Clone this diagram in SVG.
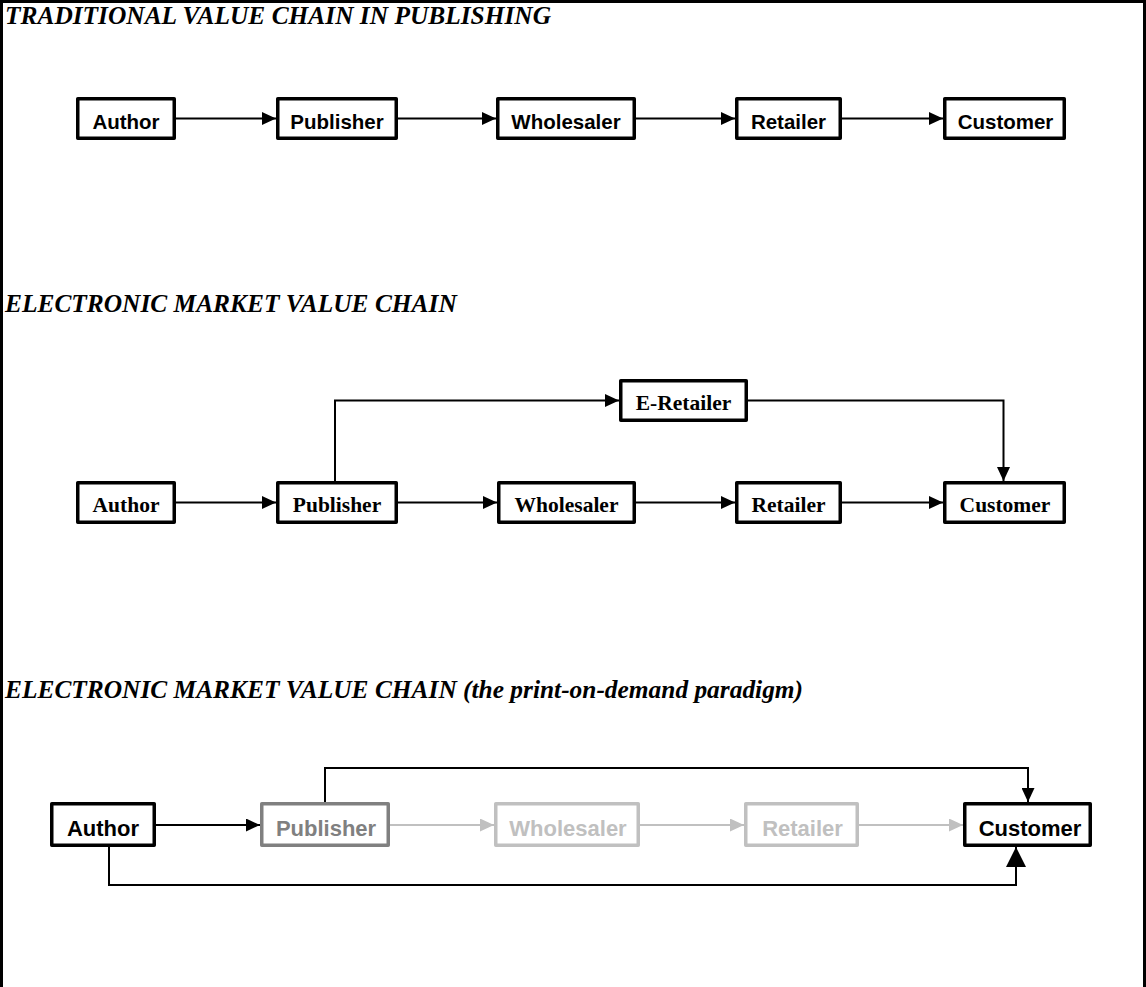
<svg xmlns="http://www.w3.org/2000/svg" width="1146" height="987" viewBox="0 0 1146 987">
<style>
.box{fill:#fff;stroke:#000;stroke-width:3.5;stroke-linejoin:round}
.g1{stroke:#808080}
.g2{stroke:#c0c0c0}
.sans{font-family:"Liberation Sans",Arial,sans-serif;font-weight:bold;font-size:20.5px;text-anchor:middle;fill:#000}
.sans3{font-family:"Liberation Sans",Arial,sans-serif;font-weight:bold;font-size:22px;text-anchor:middle;fill:#000}
.serif{font-family:"Liberation Serif","Times New Roman",serif;font-weight:bold;font-size:21.5px;text-anchor:middle;fill:#000}
.title{font-family:"Liberation Serif","Times New Roman",serif;font-weight:bold;font-style:italic;font-size:25.4px;fill:#000}
.t1{fill:#808080}
.t2{fill:#c0c0c0}
.ln{fill:none;stroke:#000;stroke-width:2}
.lg{fill:none;stroke:#c0c0c0;stroke-width:2}
</style>
<defs>
<marker id="ah" markerUnits="userSpaceOnUse" markerWidth="14" markerHeight="13" refX="14" refY="6.5" orient="auto"><path d="M0,0 L14,6.5 L0,13 z" fill="#000"/></marker>
<marker id="ahg" markerUnits="userSpaceOnUse" markerWidth="14" markerHeight="13" refX="14" refY="6.5" orient="auto"><path d="M0,0 L14,6.5 L0,13 z" fill="#c0c0c0"/></marker>
<marker id="ahb" markerUnits="userSpaceOnUse" markerWidth="20" markerHeight="20" refX="20" refY="10" orient="auto"><path d="M0,0 L20,10 L0,20 z" fill="#000"/></marker>
</defs>
<rect x="0" y="0" width="1146" height="987" fill="#fff"/>
<path d="M1.5,987 V1.5 H1144.5 V987" fill="none" stroke="#000" stroke-width="3"/>

<text class="title" x="5" y="24">TRADITIONAL VALUE CHAIN IN PUBLISHING</text>
<text class="title" x="5" y="312">ELECTRONIC MARKET VALUE CHAIN</text>
<text class="title" x="5" y="698">ELECTRONIC MARKET VALUE CHAIN (the print-on-demand paradigm)</text>

<g id="connectors">
<line class="ln" x1="176" y1="118.5" x2="276" y2="118.5" marker-end="url(#ah)"/>
<line class="ln" x1="398" y1="118.5" x2="496" y2="118.5" marker-end="url(#ah)"/>
<line class="ln" x1="636" y1="118.5" x2="735" y2="118.5" marker-end="url(#ah)"/>
<line class="ln" x1="842" y1="118.5" x2="943" y2="118.5" marker-end="url(#ah)"/>

<line class="ln" x1="176" y1="502.5" x2="276" y2="502.5" marker-end="url(#ah)"/>
<line class="ln" x1="398" y1="502.5" x2="497" y2="502.5" marker-end="url(#ah)"/>
<line class="ln" x1="636" y1="502.5" x2="735" y2="502.5" marker-end="url(#ah)"/>
<line class="ln" x1="842" y1="502.5" x2="943" y2="502.5" marker-end="url(#ah)"/>
<path class="ln" d="M335,481 V400.5 H619" marker-end="url(#ah)"/>
<path class="ln" d="M748,400.5 H1003.5 V481" marker-end="url(#ah)"/>

<line class="ln" x1="156" y1="825" x2="260" y2="825" marker-end="url(#ah)"/>
<line class="lg" x1="390" y1="825" x2="494" y2="825" marker-end="url(#ahg)"/>
<line class="lg" x1="640" y1="825" x2="744" y2="825" marker-end="url(#ahg)"/>
<line class="lg" x1="859" y1="825" x2="963" y2="825" marker-end="url(#ahg)"/>
<path class="ln" d="M325,802 V768 H1028 V802" marker-end="url(#ah)"/>
<path class="ln" d="M109,847 V885 H1016 V847" marker-end="url(#ahb)"/>
</g>

<g id="r1-author"><rect class="box" x="77.75" y="98.75" width="96.5" height="39.5"/><text class="sans" x="126" y="128.5">Author</text></g>
<g id="r1-publisher"><rect class="box" x="277.75" y="98.75" width="118.5" height="39.5"/><text class="sans" x="337" y="128.5">Publisher</text></g>
<g id="r1-wholesaler"><rect class="box" x="497.75" y="98.75" width="136.5" height="39.5"/><text class="sans" x="566" y="128.5">Wholesaler</text></g>
<g id="r1-retailer"><rect class="box" x="736.75" y="98.75" width="103.5" height="39.5"/><text class="sans" x="788.5" y="128.5">Retailer</text></g>
<g id="r1-customer"><rect class="box" x="944.75" y="98.75" width="119.5" height="39.5"/><text class="sans" x="1005.5" y="128.5">Customer</text></g>

<g id="r2-eretailer"><rect class="box" x="620.75" y="380.75" width="125.5" height="39.5"/><text class="serif" x="683.5" y="409.5">E-Retailer</text></g>
<g id="r2-author"><rect class="box" x="77.75" y="482.75" width="96.5" height="39.5"/><text class="serif" x="126" y="511.5">Author</text></g>
<g id="r2-publisher"><rect class="box" x="277.75" y="482.75" width="118.5" height="39.5"/><text class="serif" x="337" y="511.5">Publisher</text></g>
<g id="r2-wholesaler"><rect class="box" x="498.75" y="482.75" width="135.5" height="39.5"/><text class="serif" x="566.5" y="511.5">Wholesaler</text></g>
<g id="r2-retailer"><rect class="box" x="736.75" y="482.75" width="103.5" height="39.5"/><text class="serif" x="788.5" y="511.5">Retailer</text></g>
<g id="r2-customer"><rect class="box" x="944.75" y="482.75" width="119.5" height="39.5"/><text class="serif" x="1005" y="511.5">Customer</text></g>

<g id="r3-author"><rect class="box" x="51.75" y="803.75" width="102.5" height="41.5"/><text class="sans3" x="103" y="836">Author</text></g>
<g id="r3-publisher"><rect class="box g1" x="261.75" y="803.75" width="126.5" height="41.5"/><text class="sans3 t1" x="326" y="836">Publisher</text></g>
<g id="r3-wholesaler"><rect class="box g2" x="495.75" y="803.75" width="142.5" height="41.5"/><text class="sans3 t2" x="568" y="836">Wholesaler</text></g>
<g id="r3-retailer"><rect class="box g2" x="745.75" y="803.75" width="111.5" height="41.5"/><text class="sans3 t2" x="802.5" y="836">Retailer</text></g>
<g id="r3-customer"><rect class="box" x="964.75" y="803.75" width="125.5" height="41.5"/><text class="sans3" x="1030" y="836">Customer</text></g>
</svg>
